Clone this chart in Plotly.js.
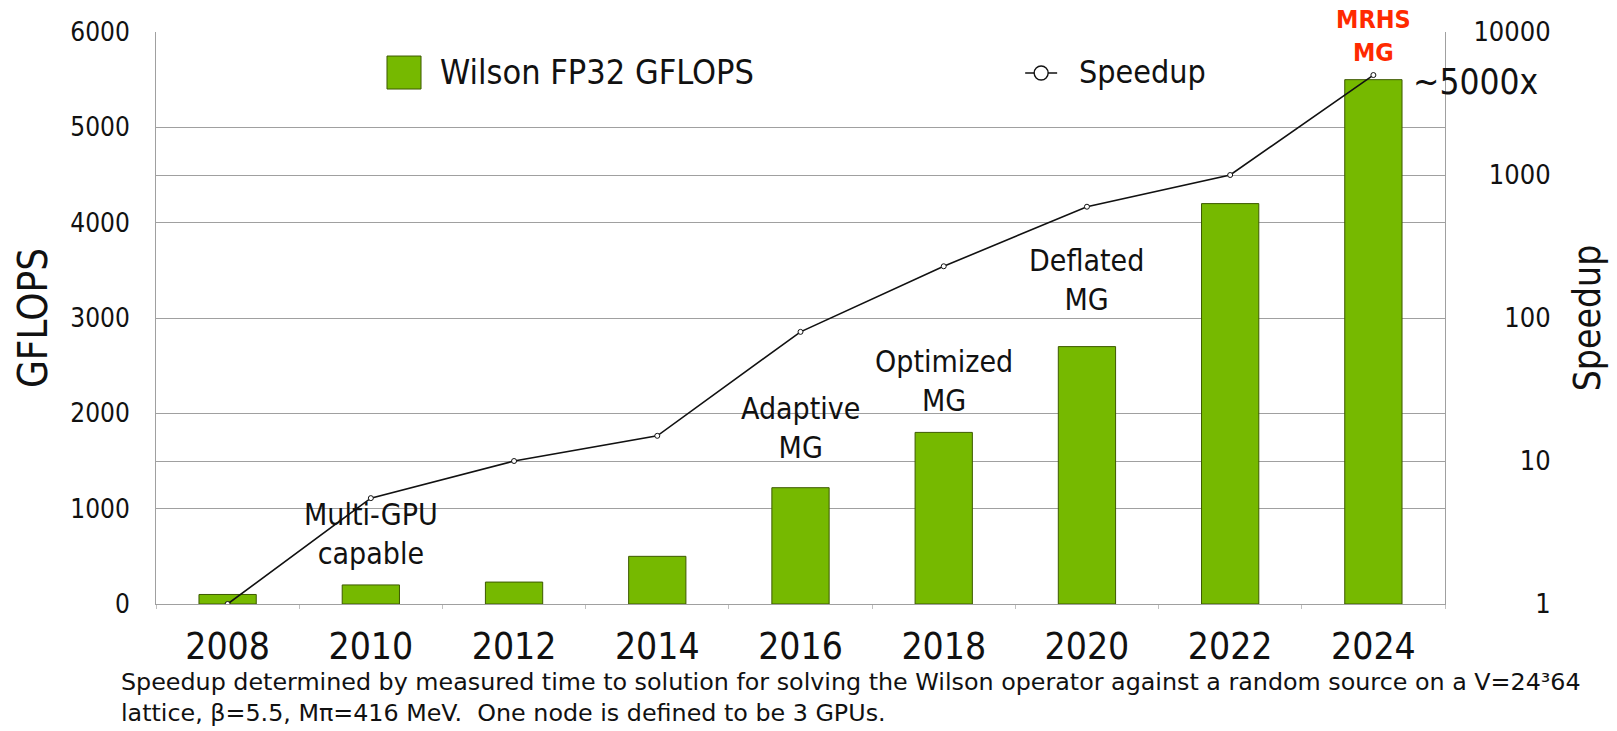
<!DOCTYPE html>
<html>
<head>
<meta charset="utf-8">
<script src="https://cdn.plot.ly/plotly-3.0.1.min.js"></script>
<style>
  html, body { margin: 0; padding: 0; background: #fff; }
  #chart { width: 1617px; height: 731px; }
</style>
</head>
<body>
<div id="chart"></div>
<script>
// values
const years = [2008, 2010, 2012, 2014, 2016, 2018, 2020, 2022, 2024];
const gflops = [100, 200, 230, 500, 1220, 1800, 2700, 4200, 5500];
const speedup = [1, 5.5, 10, 15, 80, 230, 600, 1000, 5000];

// milestone notes: which year, what text, height on GFLOPS axis
const noteYears = [2010, 2016, 2018, 2020];
const noteTexts = ['Multi-GPU<br>capable', 'Adaptive<br>MG', 'Optimized<br>MG', 'Deflated<br>MG'];
const noteLevels = [730, 1845, 2340, 3400];

const speedTicks = [1, 10, 100, 1000, 10000];

const footLines = [
    'Speedup determined by measured time to solution for solving the Wilson operator against a random source on a V=24³64',
    'lattice, β=5.5, Mπ=416 MeV.  One node is defined to be 3 GPUs.'
];

const FONT = 'DejaVu Sans Condensed, DejaVu Sans, sans-serif';
const GREEN = '#76b900';
const GRID = '#a0a0a0';

// pad right axis labels with figure spaces so they line up on the right
function padLabel(v) {
    let s = String(v);
    return '\u2007'.repeat(5 - s.length) + s;
}

var gflopsBars = {
    x: years,
    y: gflops,
    type: 'bar',
    name: 'Wilson FP32 GFLOPS',
    width: 0.8,
    marker: {color: GREEN, line: {color: '#3d5a00', width: 1}},
    hoverinfo: 'x+y'
};

var speedupLine = {
    x: years,
    y: speedup,
    type: 'scatter',
    mode: 'lines+markers',
    yaxis: 'y2',
    name: 'Speedup',
    line: {color: '#111', width: 1.6},
    marker: {symbol: 'circle', size: 5, color: '#fff', line: {color: '#111', width: 1}}
};

var data = [gflopsBars, speedupLine];

var notes = [];
for (let i = 0; i < noteYears.length; i++) {
    notes.push({
        x: noteYears[i], y: noteLevels[i], xref: 'x', yref: 'y',
        text: noteTexts[i], showarrow: false,
        xanchor: 'center', yanchor: 'middle',
        font: {family: FONT, size: 30, color: '#111'}
    });
}
notes.push({
    x: 2024, y: 5960, xref: 'x', yref: 'y',
    text: '<b>MRHS<br>MG</b>', showarrow: false,
    xanchor: 'center', yanchor: 'middle',
    font: {family: FONT, size: 25, color: '#ff2a00'}
});
notes.push({
    x: 2024, y: 5476, xref: 'x', yref: 'y', xshift: 38,
    text: '~5000x', showarrow: false,
    xanchor: 'left', yanchor: 'middle',
    font: {family: FONT, size: 35, color: '#111'}
});
// legend texts
notes.push({
    x: 0.2188, y: 0.930, xref: 'paper', yref: 'paper',
    text: 'Wilson FP32 GFLOPS', showarrow: false,
    xanchor: 'left', yanchor: 'middle',
    font: {family: FONT, size: 34, color: '#111'}
});
notes.push({
    x: 0.7145, y: 0.930, xref: 'paper', yref: 'paper',
    text: 'Speedup', showarrow: false,
    xanchor: 'left', yanchor: 'middle',
    font: {family: FONT, size: 32, color: '#111'}
});
// footnote, one annotation per line, anchored at the bottom
const footY = [-0.1643, -0.2185];
for (let i = 0; i < footLines.length; i++) {
    notes.push({
        x: -0.0287, y: footY[i], xref: 'paper', yref: 'paper',
        text: footLines[i], showarrow: false, align: 'left',
        xanchor: 'left', yanchor: 'bottom',
        font: {family: 'DejaVu Sans, sans-serif', size: 23.8, color: '#111'}
    });
}

var shapes = [
    // legend square
    {type: 'rect', xref: 'paper', yref: 'paper',
        x0: 0.1792, x1: 0.2056, y0: 0.9003, y1: 0.958,
        fillcolor: GREEN, line: {color: '#3d5a00', width: 1}},
    // legend line + open circle
    {type: 'line', xref: 'paper', yref: 'paper',
        x0: 0.6743, x1: 0.6991, y0: 0.9283, y1: 0.9283,
        line: {color: '#111', width: 1.6}},
    {type: 'circle', xref: 'paper', yref: 'paper',
        xsizemode: 'pixel', ysizemode: 'pixel', xanchor: 0.6867, yanchor: 0.9283,
        x0: -7, x1: 7, y0: -7, y1: 7,
        fillcolor: '#fff', line: {color: '#111', width: 1.4}}
];

var layout = {
    width: 1617,
    height: 731,
    margin: {l: 156, r: 172, t: 32, b: 127},
    paper_bgcolor: '#fff',
    plot_bgcolor: '#fff',
    showlegend: false,
    font: {family: FONT, color: '#111'},
    xaxis: {
        range: [2007, 2025],
        tickvals: years,
        ticktext: years.map(String),
        ticks: '',
        minor: {tick0: 2007, dtick: 2, ticks: 'outside', ticklen: 4, tickcolor: '#c0c0c0', showgrid: false},
        showline: true,
        linecolor: GRID,
        showgrid: false,
        zeroline: false,
        tickangle: 0,
        tickfont: {family: FONT, size: 37, color: '#111'},
        ticklabelstandoff: 10
    },
    yaxis: {
        title: {text: 'GFLOPS', font: {family: FONT, size: 40, color: '#111'}, standoff: 10},
        range: [0, 6000],
        tickvals: [0, 1000, 2000, 3000, 4000, 5000, 6000],
        ticks: '',
        showline: true,
        linecolor: GRID,
        gridcolor: GRID,
        zeroline: false,
        tickfont: {family: FONT, size: 26, color: '#111'},
        ticklabelstandoff: 20
    },
    yaxis2: {
        title: {text: 'Speedup', font: {family: FONT, size: 37, color: '#111'}, standoff: 24},
        type: 'log',
        range: [0, 4],
        overlaying: 'y',
        side: 'right',
        tickvals: speedTicks,
        ticktext: speedTicks.map(padLabel),
        ticks: '',
        showline: true,
        linecolor: GRID,
        gridcolor: GRID,
        showgrid: true,
        tickfont: {family: FONT, size: 27, color: '#111'},
        ticklabelstandoff: 22
    },
    annotations: notes,
    shapes: shapes
};

Plotly.newPlot('chart', data, layout, {displayModeBar: false, responsive: false});
</script>
</body>
</html>
